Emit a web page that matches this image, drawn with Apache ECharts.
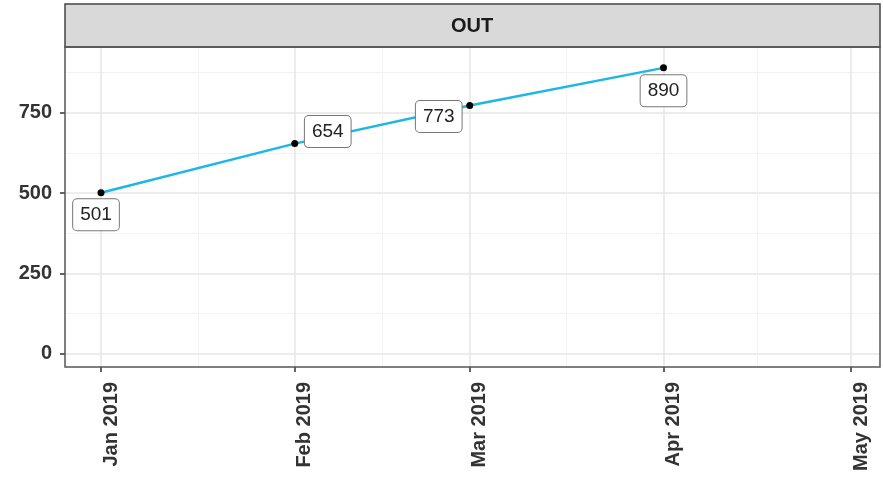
<!DOCTYPE html>
<html>
<head>
<meta charset="utf-8">
<title>OUT</title>
<script src="https://cdn.jsdelivr.net/npm/echarts@6/dist/echarts.min.js"></script>
<style>
  html, body { margin: 0; padding: 0; background: #fff; }
  #chart { width: 883px; height: 481px; }
</style>
</head>
<body>
<div id="chart"></div>
<script>
// ---- data ----
const panelTitle = "OUT";
const months = ["2019-01-01", "2019-02-01", "2019-03-01", "2019-04-01"];
const outValues = [501, 654, 773, 890];
const tickMonths = ["2019-01-01", "2019-02-01", "2019-03-01", "2019-04-01", "2019-05-01"];
const yTicks = [0, 250, 500, 750];
const yMinorTicks = [125, 375, 625, 875];
const monthNames = ["Jan", "Feb", "Mar", "Apr", "May", "Jun", "Jul", "Aug", "Sep", "Oct", "Nov", "Dec"];

// where each repelled label box sits relative to its point
const labelOffsets = [[-5, 22], [33, -12], [-31, 11], [0, 23]];

const DAY = 24 * 3600 * 1000;

function toTime(s) {
    const p = s.split("-").map(Number);
    return Date.UTC(p[0], p[1] - 1, p[2]);
}

const tickTimes = tickMonths.map(toTime);
const minorTimes = tickTimes.slice(0, -1).map((t, i) => (t + tickTimes[i + 1]) / 2);
const xMin = tickTimes[0] - 5.76 * DAY;
const xMax = tickTimes[tickTimes.length - 1] + 4.64 * DAY;
const yMin = -42;
const yMax = 955;

const FONT = "Liberation Sans, Arial, Helvetica, sans-serif";
const GRID = { left: 65, right: 3, top: 47, bottom: 114 };

const chart = echarts.init(document.getElementById("chart"));

chart.setOption({
    animation: false,
    backgroundColor: "#ffffff",
    textStyle: { fontFamily: FONT },
    grid: GRID,
    xAxis: [{
        // dates kept as UTC timestamps on a linear axis
        type: "value",
        min: xMin,
        max: xMax,
        axisLine: { show: false, onZero: false },
        axisTick: {
            show: true,
            customValues: tickTimes,
            length: 5,
            lineStyle: { color: "#333", width: 1.5 }
        },
        axisLabel: {
            customValues: tickTimes,
            rotate: 90,
            margin: 15,
            verticalAlign: "top",
            fontSize: 20,
            fontWeight: "bold",
            color: "#333",
            fontFamily: FONT,
            formatter: function (v) {
                const d = new Date(v);
                return monthNames[d.getUTCMonth()] + " " + d.getUTCFullYear();
            }
        },
        splitLine: { show: true, lineStyle: { color: "#e6e6e6", width: 1.5 } }
    }, {
        type: "value",
        min: xMin,
        max: xMax,
        position: "bottom",
        axisLine: { show: false, onZero: false },
        axisTick: { show: false, customValues: minorTimes },
        axisLabel: { show: false, customValues: minorTimes },
        splitLine: { show: true, lineStyle: { color: "#f2f2f2", width: 1 } }
    }],
    yAxis: [{
        type: "value",
        min: yMin,
        max: yMax,
        axisLine: { show: false, onZero: false },
        axisTick: {
            show: true,
            customValues: yTicks,
            length: 5,
            lineStyle: { color: "#333", width: 1.5 }
        },
        axisLabel: {
            customValues: yTicks,
            margin: 13,
            fontSize: 20,
            fontWeight: "bold",
            color: "#333",
            fontFamily: FONT
        },
        splitLine: { show: true, lineStyle: { color: "#e6e6e6", width: 1.5 } }
    }, {
        type: "value",
        min: yMin,
        max: yMax,
        position: "left",
        axisLine: { show: false, onZero: false },
        axisTick: { show: false, customValues: yMinorTicks },
        axisLabel: { show: false, customValues: yMinorTicks },
        splitLine: { show: true, lineStyle: { color: "#f2f2f2", width: 1 } }
    }],
    graphic: [{
        type: "rect",
        shape: { x: 65, y: 4, width: 815, height: 43 },
        style: { fill: "#d9d9d9", stroke: "#444", lineWidth: 1.5 },
        z: 100
    }, {
        type: "text",
        x: 472,
        y: 26,
        style: {
            text: panelTitle,
            fontSize: 20,
            fontWeight: "bold",
            fontFamily: FONT,
            fill: "#1a1a1a",
            align: "center",
            verticalAlign: "middle"
        },
        z: 101
    }, {
        type: "rect",
        shape: { x: 65, y: 47, width: 815, height: 320 },
        style: { fill: "none", stroke: "#555", lineWidth: 1.5 },
        z: 100
    }],
    series: [{
        type: "line",
        xAxisIndex: 0,
        yAxisIndex: 0,
        data: months.map((m, i) => ({
            value: [toTime(m), outValues[i]],
            label: { offset: labelOffsets[i] }
        })),
        symbol: "circle",
        symbolSize: 7,
        showAllSymbol: true,
        itemStyle: { color: "#000" },
        lineStyle: { color: "#1db6e6", width: 2.5 },
        label: {
            show: true,
            position: "inside",
            formatter: function (p) { return p.value[1]; },
            fontSize: 19,
            lineHeight: 20,
            color: "#222",
            fontFamily: FONT,
            backgroundColor: "#fff",
            borderColor: "#777",
            borderWidth: 1,
            borderRadius: 4,
            padding: [6, 7, 5, 7]
        },
        z: 3
    }]
});
</script>
</body>
</html>
